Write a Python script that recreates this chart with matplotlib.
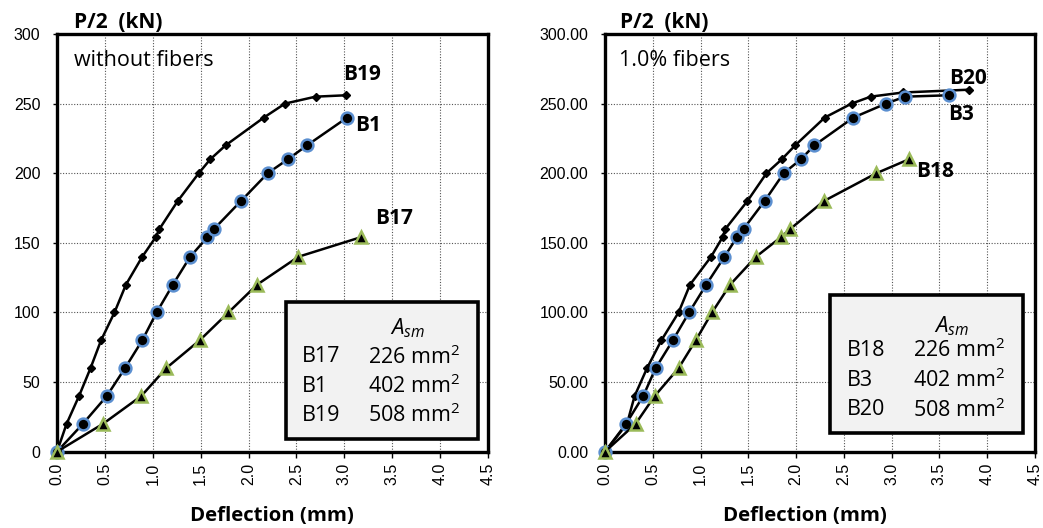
import matplotlib
matplotlib.use("Agg")
import matplotlib.pyplot as plt
from matplotlib.patches import Rectangle

# ---------------- data ----------------
# Left panel: without fibers
b19_x = [0.0, 0.10, 0.23, 0.35, 0.46, 0.60, 0.72, 0.89, 1.03, 1.07, 1.26, 1.48, 1.60, 1.76, 2.16, 2.38, 2.70, 3.02]
b19_y = [0, 20, 40, 60, 80, 100, 120, 140, 154, 160, 180, 200, 210, 220, 240, 250, 255, 256]
b1_x = [0.0, 0.27, 0.52, 0.71, 0.89, 1.04, 1.21, 1.39, 1.57, 1.64, 1.92, 2.20, 2.41, 2.61, 3.03]
b1_y = [0, 20, 40, 60, 80, 100, 120, 140, 154, 160, 180, 200, 210, 220, 240]
b17_x = [0.0, 0.48, 0.88, 1.14, 1.49, 1.79, 2.09, 2.52, 3.17]
b17_y = [0, 20, 40, 60, 80, 100, 120, 140, 154]

# Right panel: 1.0% fibers
b20_x = [0.0, 0.23, 0.31, 0.44, 0.59, 0.77, 0.89, 1.11, 1.23, 1.26, 1.49, 1.69, 1.85, 1.99, 2.30, 2.58, 2.78, 3.12, 3.81]
b20_y = [0, 20, 40, 60, 80, 100, 120, 140, 154, 160, 180, 200, 210, 220, 240, 250, 255, 258, 260]
b3_x = [0.0, 0.22, 0.40, 0.53, 0.71, 0.88, 1.06, 1.25, 1.38, 1.45, 1.67, 1.87, 2.05, 2.19, 2.60, 2.94, 3.14, 3.60]
b3_y = [0, 20, 40, 60, 80, 100, 120, 140, 154, 160, 180, 200, 210, 220, 240, 250, 255, 256]
b18_x = [0.0, 0.32, 0.52, 0.77, 0.95, 1.12, 1.31, 1.58, 1.84, 1.94, 2.29, 2.84, 3.18]
b18_y = [0, 20, 40, 60, 80, 100, 120, 140, 154, 160, 180, 200, 210]

x_ticks = [0.0, 0.5, 1.0, 1.5, 2.0, 2.5, 3.0, 3.5, 4.0, 4.5]
y_ticks = [0, 50, 100, 150, 200, 250, 300]

left_legend = [("B17", "226"), ("B1", "402"), ("B19", "508")]
right_legend = [("B18", "226"), ("B3", "402"), ("B20", "508")]

# ---------------- style ----------------
plt.rcParams['font.family'] = ['Liberation Sans', 'DejaVu Sans']
plt.rcParams['mathtext.fontset'] = 'custom'
plt.rcParams['mathtext.it'] = 'Open Sans:italic'
plt.rcParams['mathtext.rm'] = 'Open Sans'

W, H = 1043, 528
fig = plt.figure(figsize=(W / 100, H / 100), dpi=100)

def px_axes(x0, x1, y0, y1):
    return fig.add_axes([x0 / W, 1 - y1 / H, (x1 - x0) / W, (y1 - y0) / H])

LBL = dict(family='Open Sans', fontweight='bold')

def style_ax(ax, yfmt):
    ax.set_xlim(0, 4.5)
    ax.set_ylim(0, 300)
    ax.set_xticks(x_ticks)
    ax.set_yticks(y_ticks)
    ax.set_xticklabels([f"{v:.1f}" for v in x_ticks], rotation=90)
    ax.set_yticklabels([yfmt(v) for v in y_ticks])
    ax.tick_params(axis='x', labelsize=11.5, length=4, width=1, direction='out', color='black', pad=4)
    ax.tick_params(axis='y', labelsize=11.5, length=3, width=1, direction='out', color='black', pad=9)
    ax.grid(True, linestyle=(0, (1, 1.5)), color='#555555', linewidth=0.8)
    ax.set_axisbelow(True)
    for s in ax.spines.values():
        s.set_linewidth(2.4)
        s.set_color('black')

def plot_series(ax, dx, dy, dx2, dy2, tx, ty):
    ax.plot(dx, dy, color='black', lw=1.8, marker='D', ms=4, mfc='black', mec='black', zorder=5, clip_on=False)
    ax.plot(dx2, dy2, color='black', lw=1.8, marker='o', ms=8.5, mfc='black', mec='#5b8fd0', mew=1.8, zorder=5, clip_on=False)
    ax.plot(tx, ty, color='black', lw=1.8, marker='^', ms=8, mfc='black', mec='#9bbb59', mew=1.8, zorder=5, clip_on=False)

def legend_box(ax, x0, x1, y0, y1, rows, cx1, cx2, acx, ay, rys):
    ax.add_patch(Rectangle((x0, y0), x1 - x0, y1 - y0, facecolor='#f2f2f2', edgecolor='black', lw=2.6, zorder=4))
    ax.text(acx, ay, r"$A_{sm}$", ha='center', va='center', fontsize=16, zorder=6)
    for (name, val), ry in zip(rows, rys):
        ax.text(cx1, ry, name, ha='left', va='center', fontsize=15.5, family='Open Sans', zorder=6)
        ax.text(cx2, ry, val + " mm$^{2}$", ha='left', va='center', fontsize=15.5, family='Open Sans', zorder=6)

# ---------------- left panel ----------------
ax1 = px_axes(57, 488, 34, 451.7)
style_ax(ax1, lambda v: f"{v:d}")
plot_series(ax1, b19_x, b19_y, b1_x, b1_y, b17_x, b17_y)
ax1.text(3.19, 270.6, "B19", ha='center', va='center', fontsize=15, **LBL)
ax1.text(3.25, 234.6, "B1", ha='center', va='center', fontsize=15, **LBL)
ax1.text(3.52, 167.7, "B17", ha='center', va='center', fontsize=15, **LBL)
ax1.text(0.18, 281, "without fibers", ha='left', va='center', fontsize=15.5, family='Open Sans')
legend_box(ax1, 2.395, 4.40, 9.1, 107.5, left_legend, 2.56, 3.25, 3.66, 88.9, [68.2, 46.7, 25.9])
fig.text(74 / W, 1 - 22 / H, "P/2  (kN)", ha='left', va='center', fontsize=15, **LBL)
fig.text(271.5 / W, 1 - 516 / H, "Deflection (mm)", ha='center', va='center', fontsize=14.7, **LBL)

# ---------------- right panel ----------------
ax2 = px_axes(605, 1035, 34, 451.7)
style_ax(ax2, lambda v: f"{v:.2f}")
plot_series(ax2, b20_x, b20_y, b3_x, b3_y, b18_x, b18_y)
ax2.text(3.80, 268, "B20", ha='center', va='center', fontsize=15, **LBL)
ax2.text(3.73, 242, "B3", ha='center', va='center', fontsize=15, **LBL)
ax2.text(3.45, 201.6, "B18", ha='center', va='center', fontsize=15, **LBL)
ax2.text(0.15, 281, "1.0% fibers", ha='left', va='center', fontsize=15.5, family='Open Sans')
legend_box(ax2, 2.354, 4.37, 13.6, 112.6, right_legend, 2.53, 3.22, 3.63, 90.3, [73, 51, 30])
fig.text(620 / W, 1 - 22 / H, "P/2  (kN)", ha='left', va='center', fontsize=15, **LBL)
fig.text(805 / W, 1 - 516 / H, "Deflection (mm)", ha='center', va='center', fontsize=14.7, **LBL)

fig.savefig("out.png", dpi=100)
